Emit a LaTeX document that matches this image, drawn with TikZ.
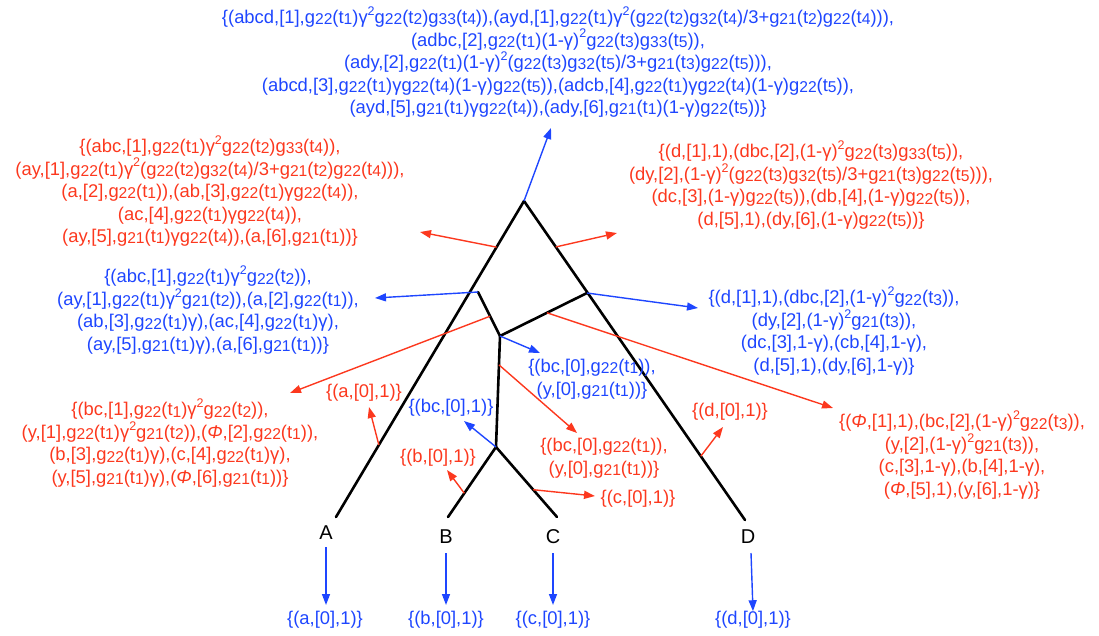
\documentclass[tikz,border=0pt]{standalone}
\usepackage{fontspec}
\setmainfont{Liberation Sans}
\usetikzlibrary{arrows.meta,calc}
\definecolor{ared}{RGB}{252,56,30}
\definecolor{ablue}{RGB}{30,70,255}
% small lowered digits (g22, t1) and raised square
\newcommand\sbs[1]{\raisebox{-0.12ex}{\scalebox{0.85}{#1}}}
\newcommand\gf[2]{g\sbs{#1}(t\sbs{#2})}
\newcommand\sqr{\raisebox{0.85ex}{\scalebox{0.68}{2}}}
\newcommand\Ph{\textit{Φ}}
\begin{document}
\begin{tikzpicture}[x=1pt,y=-1pt,
  every node/.style={inner sep=0pt},
  lbl/.style={align=center,font=\fontsize{18.4}{22.5}\selectfont},
  rl/.style={lbl,text=ared},
  bl/.style={lbl,text=ablue},
  leaf/.style={font=\fontsize{20}{24}\selectfont},
  branch/.style={line width=2.6pt,line cap=round,line join=round},
  rarr/.style={ared,line width=1.4pt,-{Triangle[length=11pt,width=8pt]}},
  barr/.style={ablue,line width=1.4pt,-{Triangle[length=11pt,width=8pt]}}]
\useasboundingbox (0,0) rectangle (1099,635);

% tree
\coordinate (R) at (524,201);
\coordinate (A) at (336,517);
\coordinate (D) at (745,520);
\coordinate (P) at (478,292);
\coordinate (S) at (587,293);
\coordinate (Q) at (500,336);
\coordinate (U) at (496,447);
\coordinate (B) at (448,517);
\coordinate (C) at (557,517);
\draw[branch] (A) -- (R) -- (D);
\draw[branch] (P) -- (Q) -- (S);
\draw[branch] (Q) -- (U);
\draw[branch] (B) -- (U) -- (C);

% leaf names
\node[leaf] (lA) at (326,533) {A};
\node[leaf] (lB) at (446,537) {B};
\node[leaf] (lC) at (553,537) {C};
\node[leaf] (lD) at (748,537) {D};

% labels
\node[bl] (top) at (558,62) {%
\{(abcd,[1],\gf{22}{1}γ\sqr\gf{22}{2}\gf{33}{4}),(ayd,[1],\gf{22}{1}γ\sqr(\gf{22}{2}\gf{32}{4}/3+\gf{21}{2}\gf{22}{4})),\\
(adbc,[2],\gf{22}{1}(1-γ)\sqr\gf{22}{3}\gf{33}{5}),\\
(ady,[2],\gf{22}{1}(1-γ)\sqr(\gf{22}{3}\gf{32}{5}/3+\gf{21}{3}\gf{22}{5})),\\
(abcd,[3],\gf{22}{1}γ\gf{22}{4}(1-γ)\gf{22}{5}),(adcb,[4],\gf{22}{1}γ\gf{22}{4}(1-γ)\gf{22}{5}),\\
(ayd,[5],\gf{21}{1}γ\gf{22}{4}),(ady,[6],\gf{21}{1}(1-γ)\gf{22}{5})\}};

\node[rl] (ul) at (210,191) {%
\{(abc,[1],\gf{22}{1}γ\sqr\gf{22}{2}\gf{33}{4}),\\
(ay,[1],\gf{22}{1}γ\sqr(\gf{22}{2}\gf{32}{4}/3+\gf{21}{2}\gf{22}{4})),\\
(a,[2],\gf{22}{1}),(ab,[3],\gf{22}{1}γ\gf{22}{4}),\\
(ac,[4],\gf{22}{1}γ\gf{22}{4}),\\
(ay,[5],\gf{21}{1}γ\gf{22}{4}),(a,[6],\gf{21}{1})\}};

\node[rl] (ur) at (811,185) {%
\{(d,[1],1),(dbc,[2],(1-γ)\sqr\gf{22}{3}\gf{33}{5}),\\
(dy,[2],(1-γ)\sqr(\gf{22}{3}\gf{32}{5}/3+\gf{21}{3}\gf{22}{5})),\\
(dc,[3],(1-γ)\gf{22}{5}),(db,[4],(1-γ)\gf{22}{5}),\\
(d,[5],1),(dy,[6],(1-γ)\gf{22}{5})\}};

\node[bl] (ml) at (208,310) {%
\{(abc,[1],\gf{22}{1}γ\sqr\gf{22}{2}),\\
(ay,[1],\gf{22}{1}γ\sqr\gf{21}{2}),(a,[2],\gf{22}{1}),\\
(ab,[3],\gf{22}{1}γ),(ac,[4],\gf{22}{1}γ),\\
(ay,[5],\gf{21}{1}γ),(a,[6],\gf{21}{1})\}};

\node[bl] (mr) at (834,331) {%
\{(d,[1],1),(dbc,[2],(1-γ)\sqr\gf{22}{3}),\\
(dy,[2],(1-γ)\sqr\gf{21}{3}),\\
(dc,[3],1-γ),(cb,[4],1-γ),\\
(d,[5],1),(dy,[6],1-γ)\}};

\node[bl] (mq) at (592,379) {%
\{(bc,[0],\gf{22}{1}),\\
(y,[0],\gf{21}{1})\}};

\node[rl] (ll) at (170,443) {%
\{(bc,[1],\gf{22}{1}γ\sqr\gf{22}{2}),\\
(y,[1],\gf{22}{1}γ\sqr\gf{21}{2}),(\Ph,[2],\gf{22}{1}),\\
(b,[3],\gf{22}{1}γ),(c,[4],\gf{22}{1}γ),\\
(y,[5],\gf{21}{1}γ),(\Ph,[6],\gf{21}{1})\}};

\node[rl] (lq) at (604,458) {%
\{(bc,[0],\gf{22}{1}),\\
(y,[0],\gf{21}{1})\}};

\node[rl] (lr) at (962,455) {%
\{(\Ph,[1],1),(bc,[2],(1-γ)\sqr\gf{22}{3}),\\
(y,[2],(1-γ)\sqr\gf{21}{3}),\\
(c,[3],1-γ),(b,[4],1-γ),\\
(\Ph,[5],1),(y,[6],1-γ)\}};

\node[rl] (sa) at (364,393) {\{(a,[0],1)\}};
\node[bl] (sbc) at (451,408) {\{(bc,[0],1)\}};
\node[rl] (sb) at (438,458) {\{(b,[0],1)\}};
\node[rl] (sc) at (638,499) {\{(c,[0],1)\}};
\node[rl] (sd) at (730,412) {\{(d,[0],1)\}};

\node[bl] (fa) at (325,620) {\{(a,[0],1)\}};
\node[bl] (fb) at (446,620) {\{(b,[0],1)\}};
\node[bl] (fc) at (553,620) {\{(c,[0],1)\}};
\node[bl] (fd) at (753,620) {\{(d,[0],1)\}};

% arrow tips
\coordinate (tTop) at (551,128);
\coordinate (tUL) at (420,232);
\coordinate (tUR) at (617,233);
\coordinate (tML) at (375,298);
\coordinate (tMR) at (698,308);
\coordinate (tLL) at (290,393);
\coordinate (tLR) at (833,408);
\coordinate (tMQ) at (540,353);
\coordinate (tLQ) at (577,433);
\coordinate (tBC) at (464,421);
\coordinate (tB) at (447,470);
\coordinate (tC) at (595,496);
\coordinate (tA) at (369,407);
\coordinate (tD) at (723,427);

% messages along the branches
\draw[barr] (R) -- (tTop);
\draw[rarr] ($(R)!0.146!(A)$) -- (tUL);
\draw[rarr] ($(R)!0.144!(D)$) -- (tUR);
\draw[barr] (P) -- (tML);
\draw[barr] (S) -- (tMR);
\draw[rarr] ($(P)!0.55!(Q)$) -- (tLL);
\draw[rarr] ($(Q)!0.54!(S)$) -- (tLR);
\draw[barr] (Q) -- (tMQ);
\draw[rarr] ($(Q)!0.26!(U)$) -- (tLQ);
\draw[barr] (U) -- (tBC);
\draw[rarr] ($(U)!0.66!(B)$) -- (tB);
\draw[rarr] ($(U)!0.61!(C)$) -- (tC);
\draw[rarr] ($(R)!0.772!(A)$) -- (tA);
\draw[rarr] ($(R)!0.80!(D)$) -- (tD);

% leaf arrows
\draw[barr] (lA.south |- 0,547) -- (lA.south |- 0,605);
\draw[barr] (lB.south |- 0,553) -- (lB.south |- 0,605);
\draw[barr] (lC.south |- 0,553) -- (lC.south |- 0,605);
\draw[barr] (751,553) -- (fd.north);
\end{tikzpicture}
\end{document}
